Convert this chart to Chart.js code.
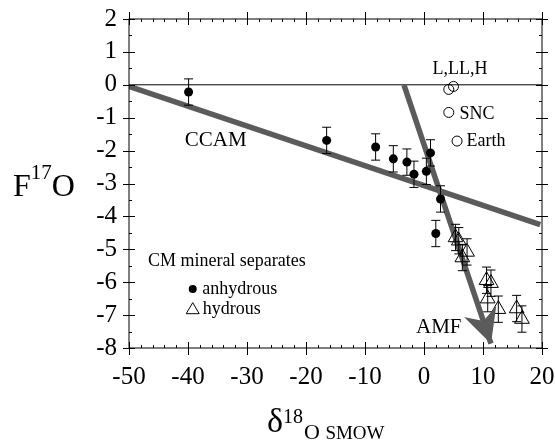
<!DOCTYPE html>
<html>
<head>
<meta charset="utf-8">
<script src="https://cdn.jsdelivr.net/npm/chart.js@4/dist/chart.umd.min.js"></script>
<style>
  html, body { margin: 0; padding: 0; background: #fff; }
  #wrap { width: 555px; height: 440px; }
</style>
</head>
<body>
<div id="wrap"><canvas id="oxyChart" width="555" height="440"></canvas></div>
<script>
// tick labels
const xTickLabels = [-50, -40, -30, -20, -10, 0, 10, 20];
const yTickLabels = [2, 1, 0, -1, -2, -3, -4, -5, -6, -7, -8];

// CM mineral separates
const anhydrousX = [-39.9, -16.5, -8.2, -5.2, -2.9, -1.7, 0.4, 1.1, 2.8, 2.0];
const anhydrousY = [-0.22, -1.69, -1.89, -2.25, -2.35, -2.72, -2.63, -2.07, -3.47, -4.52];
const anhydrousErr = [0.4, 0.4, 0.4, 0.4, 0.4, 0.4, 0.4, 0.4, 0.4, 0.4];

const hydrousX = [5.35, 5.9, 6.5, 7.3, 10.6, 11.35, 10.8, 12.6, 15.7, 16.6];
const hydrousY = [-4.64, -4.74, -5.25, -5.08, -5.94, -6.03, -6.5, -6.82, -6.8, -7.12];
const hydrousErr = [0.4, 0.4, 0.4, 0.4, 0.4, 0.4, 0.4, 0.4, 0.4, 0.4];

// ordinary chondrites, SNC, Earth
const refNames = ["L", "LL", "SNC", "Earth"];
const refX = [4.2, 5.0, 4.2, 5.6];
const refY = [-0.14, -0.05, -0.84, -1.71];

// CCAM line and AMF arrow (end = arrow tip)
const ccamX = [-50, 19.7];
const ccamY = [-0.05, -4.25];
const amfX = [-3.4, 11.35];
const amfY = [0, -7.87];
const zeroX = [-50, 20];
const zeroY = [0, 0];

const zip = (xs, ys) => xs.map((x, i) => ({ x, y: ys[i] }));

const SERIF = "'Liberation Serif', 'DejaVu Serif', serif";
const LINE_GREY = "#5b5b5b";

// text notes, in data units
const notes = [
  { text: "CCAM", x: -35.3, y: -1.68, size: 21, align: "center" },
  { text: "L,LL,H", x: 6.1, y: 0.48, size: 18, align: "center" },
  { text: "SNC", x: 6.0, y: -0.89, size: 18, align: "left" },
  { text: "Earth", x: 7.2, y: -1.71, size: 18, align: "left" },
  { text: "AMF", x: 2.5, y: -7.37, size: 21, align: "center" },
  { text: "CM mineral separates", x: -46.8, y: -5.36, size: 18, align: "left" },
  { text: "anhydrous", x: -37.6, y: -6.21, size: 18, align: "left" },
  { text: "hydrous", x: -37.5, y: -6.82, size: 18, align: "left" }
];

const framePlugin = {
  id: "frame",
  afterDatasetsDraw(chart) {
    const { ctx, chartArea: a, scales } = chart;
    const xs = scales.x, ys = scales.y;
    ctx.save();

    // error bars
    ctx.strokeStyle = "#000";
    ctx.lineWidth = 1;
    const bars = (X, Y, E) => {
      X.forEach((xv, i) => {
        const px = xs.getPixelForValue(xv);
        const top = ys.getPixelForValue(Y[i] + E[i]);
        const bot = ys.getPixelForValue(Y[i] - E[i]);
        ctx.beginPath();
        ctx.moveTo(px, top); ctx.lineTo(px, bot);
        ctx.moveTo(px - 4.5, top); ctx.lineTo(px + 4.5, top);
        ctx.moveTo(px - 4.5, bot); ctx.lineTo(px + 4.5, bot);
        ctx.stroke();
      });
    };
    bars(anhydrousX, anhydrousY, anhydrousErr);
    bars(hydrousX, hydrousY, hydrousErr);

    // AMF arrow head
    const x0 = xs.getPixelForValue(amfX[0]), y0 = ys.getPixelForValue(amfY[0]);
    const x1 = xs.getPixelForValue(amfX[1]), y1 = ys.getPixelForValue(amfY[1]);
    const len = Math.hypot(x1 - x0, y1 - y0);
    const ux = (x1 - x0) / len, uy = (y1 - y0) / len;
    const nx = -uy, ny = ux;
    ctx.fillStyle = LINE_GREY;
    ctx.beginPath();
    ctx.moveTo(x1, y1);
    ctx.lineTo(x1 - 34 * ux + 17 * nx, y1 - 34 * uy + 17 * ny);
    ctx.lineTo(x1 - 24 * ux, y1 - 24 * uy);
    ctx.lineTo(x1 - 34 * ux - 17 * nx, y1 - 34 * uy - 17 * ny);
    ctx.closePath();
    ctx.fill();

    // frame and ticks on all four sides
    ctx.strokeStyle = "#000";
    ctx.lineWidth = 1;
    ctx.strokeRect(a.left, a.top, a.right - a.left, a.bottom - a.top);
    ctx.beginPath();
    xs.ticks.forEach(t => {
      const px = Math.round(xs.getPixelForValue(t.value)) + 0.5;
      const major = xTickLabels.includes(t.value);
      const inn = major ? 6 : 3, out = major ? 7 : 0;
      ctx.moveTo(px, a.bottom + out); ctx.lineTo(px, a.bottom - inn);
      ctx.moveTo(px, a.top - out); ctx.lineTo(px, a.top + inn);
    });
    ys.ticks.forEach(t => {
      const py = Math.round(ys.getPixelForValue(t.value)) + 0.5;
      const major = yTickLabels.includes(t.value);
      const inn = major ? 6 : 3, out = major ? 6 : 0;
      ctx.moveTo(a.left - out, py); ctx.lineTo(a.left + inn, py);
      ctx.moveTo(a.right + out, py); ctx.lineTo(a.right - inn, py);
    });
    ctx.stroke();

    // notes
    ctx.fillStyle = "#000";
    ctx.textBaseline = "middle";
    notes.forEach(n => {
      ctx.font = n.size + "px " + SERIF;
      ctx.textAlign = n.align;
      ctx.fillText(n.text, xs.getPixelForValue(n.x), ys.getPixelForValue(n.y));
    });

    // legend markers
    const mx = xs.getPixelForValue(-39.2);
    const my1 = ys.getPixelForValue(-6.21), my2 = ys.getPixelForValue(-6.82);
    ctx.beginPath();
    ctx.arc(mx, my1, 4, 0, Math.PI * 2);
    ctx.fill();
    ctx.beginPath();
    ctx.moveTo(mx, my2 - 6.5);
    ctx.lineTo(mx + 6.5, my2 + 4.5);
    ctx.lineTo(mx - 6.5, my2 + 4.5);
    ctx.closePath();
    ctx.stroke();

    // axis titles
    ctx.textAlign = "left";
    ctx.textBaseline = "alphabetic";
    let cx = 13;
    ctx.font = "32px " + SERIF;
    ctx.fillText("F", cx, 196); cx += ctx.measureText("F").width;
    ctx.font = "21px " + SERIF;
    ctx.fillText("17", cx, 179); cx += ctx.measureText("17").width;
    ctx.font = "32px " + SERIF;
    ctx.fillText("O", cx, 196);

    cx = 267;
    ctx.font = "34px " + SERIF;
    ctx.fillText("δ", cx, 432); cx += ctx.measureText("δ").width;
    ctx.font = "20px " + SERIF;
    ctx.fillText("18", cx, 423); cx += ctx.measureText("18").width + 1;
    ctx.font = "22px " + SERIF;
    ctx.fillText("O", cx, 439); cx += ctx.measureText("O ").width;
    ctx.font = "19px " + SERIF;
    ctx.fillText("SMOW", cx, 439);
    ctx.restore();
  }
};

const ctx = document.getElementById("oxyChart").getContext("2d");
new Chart(ctx, {
  type: "scatter",
  data: {
    datasets: [
      {
        label: "anhydrous",
        data: zip(anhydrousX, anhydrousY),
        pointStyle: "circle",
        pointRadius: 4.5,
        backgroundColor: "#000",
        borderColor: "#000",
        borderWidth: 0,
        order: 0
      },
      {
        label: "hydrous",
        data: zip(hydrousX, hydrousY),
        pointStyle: "triangle",
        pointRadius: 8.5,
        backgroundColor: "rgba(0,0,0,0)",
        borderColor: "#000",
        borderWidth: 1,
        order: 0
      },
      {
        label: refNames.join(", "),
        data: zip(refX, refY),
        pointStyle: "circle",
        pointRadius: 5,
        backgroundColor: "rgba(0,0,0,0)",
        borderColor: "#000",
        borderWidth: 1,
        order: 0
      },
      {
        label: "CCAM",
        data: zip(ccamX, ccamY),
        showLine: true,
        pointRadius: 0,
        borderColor: LINE_GREY,
        borderWidth: 5.5,
        order: 2
      },
      {
        label: "AMF",
        data: zip(amfX, amfY),
        showLine: true,
        pointRadius: 0,
        borderColor: LINE_GREY,
        borderWidth: 5.5,
        order: 2
      },
      {
        label: "zero",
        data: zip(zeroX, zeroY),
        showLine: true,
        pointRadius: 0,
        borderColor: "#000",
        borderWidth: 1,
        order: 3
      }
    ]
  },
  options: {
    responsive: false,
    animation: false,
    layout: { padding: { top: 19, right: 13, left: 0, bottom: 0 } },
    plugins: { legend: { display: false }, tooltip: { enabled: false } },
    scales: {
      x: {
        type: "linear",
        min: -50,
        max: 20,
        grid: { display: false, drawTicks: false },
        border: { display: false },
        ticks: {
          stepSize: 2,
          autoSkip: false,
          maxRotation: 0,
          padding: 14,
          color: "#000",
          font: { family: SERIF, size: 25 },
          callback: v => xTickLabels.includes(v) ? String(v) : ""
        },
        afterFit(scale) {
          scale.height = 92;
          scale.paddingLeft = 0;
          scale.paddingRight = 0;
        }
      },
      y: {
        type: "linear",
        min: -8,
        max: 2,
        grid: { display: false, drawTicks: false },
        border: { display: false },
        ticks: {
          stepSize: 0.5,
          autoSkip: false,
          padding: 12,
          color: "#000",
          font: { family: SERIF, size: 25 },
          callback: v => yTickLabels.includes(v) ? String(v) : ""
        },
        afterFit(scale) {
          scale.width = 129;
          scale.paddingTop = 0;
          scale.paddingBottom = 0;
        }
      }
    }
  },
  plugins: [framePlugin]
});
</script>
</body>
</html>
